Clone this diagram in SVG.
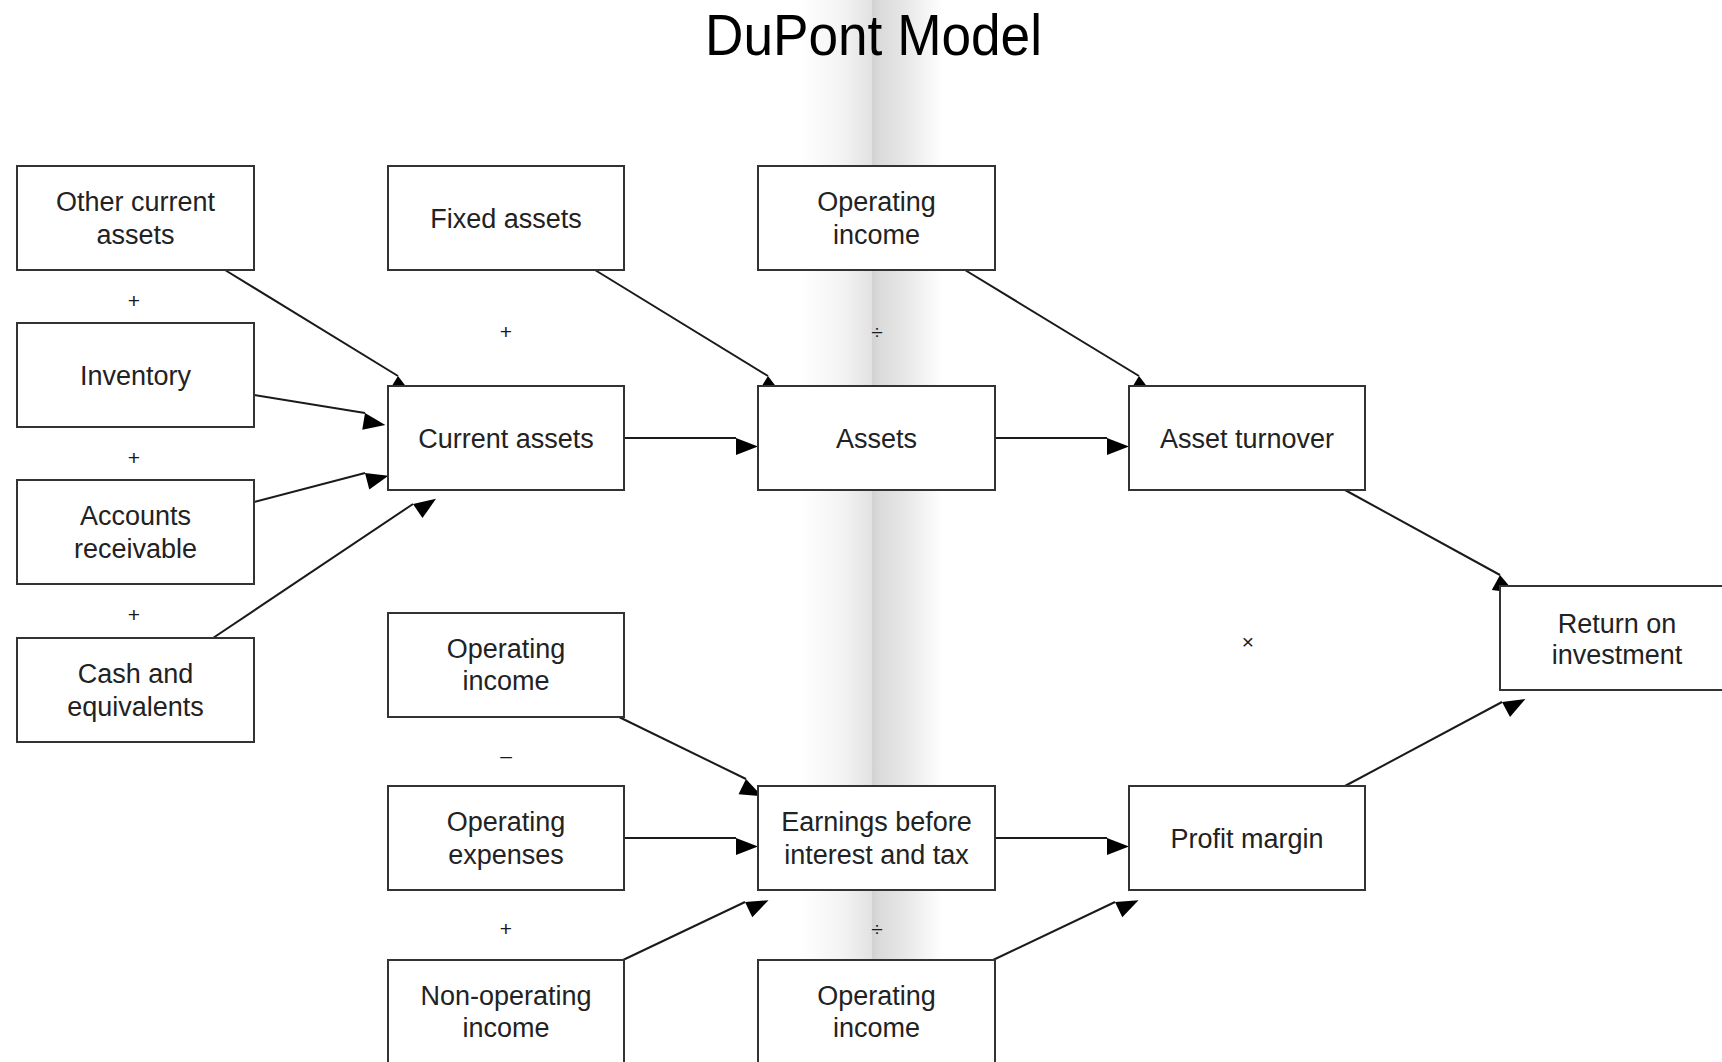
<svg xmlns="http://www.w3.org/2000/svg" width="1722" height="1062" viewBox="0 0 1722 1062">
<defs>
<linearGradient id="band" gradientUnits="userSpaceOnUse" x1="800" y1="0" x2="943" y2="0">
<stop offset="0" stop-color="#ffffff"/>
<stop offset="0.3" stop-color="#f3f3f3"/>
<stop offset="0.5" stop-color="#e2e2e2"/>
<stop offset="0.505" stop-color="#d2d2d2"/>
<stop offset="0.55" stop-color="#dadada"/>
<stop offset="0.72" stop-color="#e6e6e6"/>
<stop offset="1" stop-color="#ffffff"/>
</linearGradient>
<marker id="arr" markerUnits="userSpaceOnUse" orient="auto" refX="0" refY="0" markerWidth="30" markerHeight="30" overflow="visible">
<path d="M0,0 L0,17 L22,8.5 Z" fill="#000"/>
</marker>
<style>
.box{fill:#fff;stroke:#333;stroke-width:2}
.t{font-family:"Liberation Sans",Arial,sans-serif;font-size:27px;fill:#222;text-anchor:middle}
.op{font-family:"Liberation Sans",Arial,sans-serif;font-size:21px;fill:#1a1a1a;text-anchor:middle}
.c{fill:none;stroke:#1a1a1a;stroke-width:2;marker-end:url(#arr)}
</style>
</defs>
<rect x="0" y="0" width="1722" height="1062" fill="#fff"/>
<rect x="800" y="0" width="143" height="1062" fill="url(#band)"/>
<text x="873.5" y="55" font-family="'Liberation Sans',Arial,sans-serif" font-size="58" fill="#000" text-anchor="middle" textLength="337" lengthAdjust="spacingAndGlyphs">DuPont Model</text>

<g id="connectors">
<path class="c" d="M225,270 L398,376"/>
<path class="c" d="M254,395 L365,413"/>
<path class="c" d="M254,502 L365,473"/>
<path class="c" d="M213,638 L413,504"/>
<path class="c" d="M595,270 L768,376"/>
<path class="c" d="M624,438 L736,438"/>
<path class="c" d="M965,270 L1139,376"/>
<path class="c" d="M995,438 L1107,438"/>
<path class="c" d="M1345,490 L1500,575"/>
<path class="c" d="M619,717 L746,779"/>
<path class="c" d="M624,838 L736,838"/>
<path class="c" d="M623,960 L745,902"/>
<path class="c" d="M995,838 L1107,838"/>
<path class="c" d="M993,960 L1115,902"/>
<path class="c" d="M1345,786 L1502,702"/>
</g>

<g id="other-current-assets"><rect class="box" x="17" y="166" width="237" height="104"/><text class="t" x="135.5" y="211">Other current</text><text class="t" x="135.5" y="244">assets</text></g>
<g id="inventory"><rect class="box" x="17" y="323" width="237" height="104"/><text class="t" x="135.5" y="384.5">Inventory</text></g>
<g id="accounts-receivable"><rect class="box" x="17" y="480" width="237" height="104"/><text class="t" x="135.5" y="525">Accounts</text><text class="t" x="135.5" y="558">receivable</text></g>
<g id="cash"><rect class="box" x="17" y="638" width="237" height="104"/><text class="t" x="135.5" y="683">Cash and</text><text class="t" x="135.5" y="716">equivalents</text></g>

<g id="fixed-assets"><rect class="box" x="388" y="166" width="236" height="104"/><text class="t" x="506" y="227.5">Fixed assets</text></g>
<g id="current-assets"><rect class="box" x="388" y="386" width="236" height="104"/><text class="t" x="506" y="447.5">Current assets</text></g>
<g id="operating-income-2"><rect class="box" x="388" y="613" width="236" height="104"/><text class="t" x="506" y="658">Operating</text><text class="t" x="506" y="690">income</text></g>
<g id="operating-expenses"><rect class="box" x="388" y="786" width="236" height="104"/><text class="t" x="506" y="831">Operating</text><text class="t" x="506" y="864">expenses</text></g>
<g id="non-operating-income"><rect class="box" x="388" y="960" width="236" height="104"/><text class="t" x="506" y="1005">Non-operating</text><text class="t" x="506" y="1037">income</text></g>

<g id="operating-income-1"><rect class="box" x="758" y="166" width="237" height="104"/><text class="t" x="876.5" y="211">Operating</text><text class="t" x="876.5" y="244">income</text></g>
<g id="assets"><rect class="box" x="758" y="386" width="237" height="104"/><text class="t" x="876.5" y="447.5">Assets</text></g>
<g id="ebit"><rect class="box" x="758" y="786" width="237" height="104"/><text class="t" x="876.5" y="831">Earnings before</text><text class="t" x="876.5" y="864">interest and tax</text></g>
<g id="operating-income-3"><rect class="box" x="758" y="960" width="237" height="104"/><text class="t" x="876.5" y="1005">Operating</text><text class="t" x="876.5" y="1037">income</text></g>

<g id="asset-turnover"><rect class="box" x="1129" y="386" width="236" height="104"/><text class="t" x="1247" y="447.5">Asset turnover</text></g>
<g id="profit-margin"><rect class="box" x="1129" y="786" width="236" height="104"/><text class="t" x="1247" y="847.5">Profit margin</text></g>
<g id="return-on-investment"><rect class="box" x="1500" y="586" width="236" height="104"/><text class="t" x="1617" y="633">Return on</text><text class="t" x="1617" y="664">investment</text></g>

<g id="operators">
<text class="op" x="134" y="308">+</text>
<text class="op" x="134" y="465">+</text>
<text class="op" x="134" y="622">+</text>
<text class="op" x="506" y="339">+</text>
<text class="op" x="877" y="339">÷</text>
<text class="op" x="506" y="763" font-size="30">–</text>
<text class="op" x="506" y="936">+</text>
<text class="op" x="877" y="936">÷</text>
<text class="op" x="1248" y="649">×</text>
</g>
</svg>
